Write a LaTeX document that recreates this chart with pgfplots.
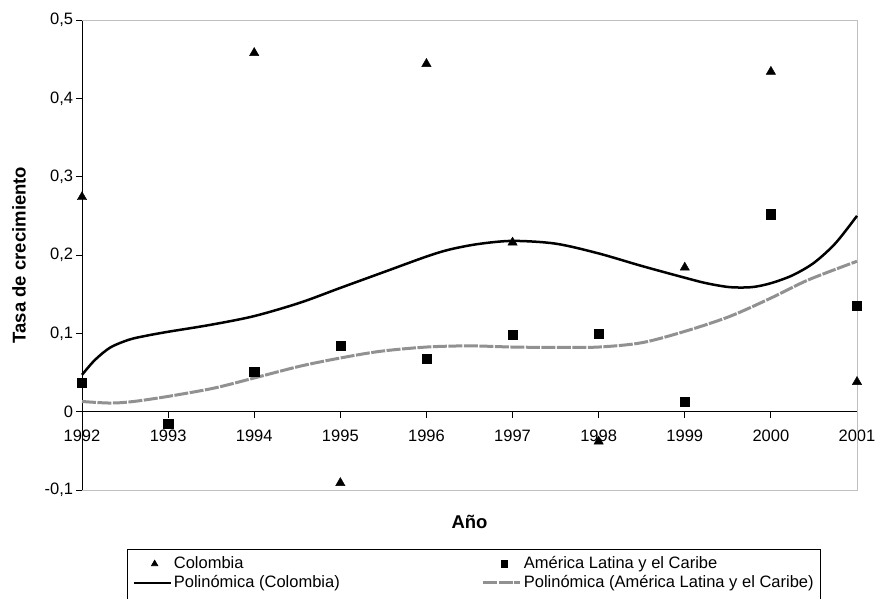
\documentclass[border=0pt]{standalone}
\usepackage{pgfplots}
\pgfplotsset{compat=1.18}
\usepackage{fontspec}
\setmainfont{Liberation Sans}
\definecolor{trendgray}{RGB}{145,145,145}
\definecolor{framegray}{RGB}{192,192,192}
\pgfplotsset{
  trilegend/.style={legend image code/.code={\path[draw=none] (0bp,0bp) -- (37bp,0bp); \path[##1, /tikz/only marks, draw=black, mark size=3.6bp] plot coordinates {(21bp,0bp)};}},
  sqlegend/.style={legend image code/.code={\path[draw=none] (0bp,0bp) -- (37bp,0bp); \path[##1, /tikz/only marks, draw=black, mark size=3.2bp] plot coordinates {(21bp,0bp)};}},
  linelegend/.style={legend image code/.code={\draw[##1] (0bp,0bp) -- (37bp,0bp);}},
}
\begin{document}
\begin{tikzpicture}
\begin{axis}[
  at={(0,0)}, anchor=south west,
  scale only axis, width=775bp, height=470bp,
  xmin=1992, xmax=2001, ymin=-0.1, ymax=0.5,
  axis y line=left, axis x line=middle,
  axis line style={-, black, line width=0.8bp},
  hide obscured x ticks=false, hide obscured y ticks=false,
  xtick={1992,1993,1994,1995,1996,1997,1998,1999,2000,2001},
  xticklabels={1992,1993,1994,1995,1996,1997,1998,1999,2000,2001},
  ytick={-0.1,0,0.1,0.2,0.3,0.4,0.5},
  yticklabels={{-0,1},{0},{0,1},{0,2},{0,3},{0,4},{0,5}},
  tick align=outside, major tick length=6bp,
  tick style={black, line width=0.8bp},
  minor tick num=0,
  ticklabel style={font=\fontsize{16.5bp}{19bp}\selectfont},
  xticklabel style={yshift=-9bp},
  yticklabel style={xshift=0.5bp},
  xlabel={Año}, ylabel={Tasa de crecimiento},
  label style={font=\bfseries\fontsize{18.5bp}{21bp}\selectfont},
  xlabel style={at={([yshift=-32bp]axis description cs:0.5,0)}, anchor=center},
  ylabel style={at={([xshift=-63bp]axis description cs:0,0.5)}, anchor=center},
  clip=false,
  legend columns=2,
  legend cell align=left,
  legend style={at={(axis description cs:0.05806,-0.12553)}, anchor=north west,
    draw=black, line width=0.8bp, inner xsep=5bp, inner ysep=5bp,
    column sep=0pt, font=\fontsize{16.5bp}{19bp}\selectfont,
    nodes={text height=13bp, text depth=4.5bp, inner ysep=0.75bp, inner xsep=2bp},
    /tikz/every even column/.append style={column sep=140bp}},
]
\draw[framegray, line width=0.8bp] (rel axis cs:0,0) -- (rel axis cs:1,0) -- (rel axis cs:1,1) -- (rel axis cs:0,1);

\addplot[only marks, mark=triangle*, mark size=5.4bp, black, trilegend]
coordinates {(1992,0.274) (1994,0.458) (1995,-0.091) (1996,0.444) (1997,0.216) (1998,-0.038) (1999,0.184) (2000,0.434) (2001,0.038)};
\addlegendentry{Colombia}

\addplot[only marks, mark=square*, mark size=4.6bp, black, sqlegend]
coordinates {(1992,0.037) (1993,-0.015) (1994,0.051) (1995,0.084) (1996,0.068) (1997,0.098) (1998,0.100) (1999,0.013) (2000,0.252) (2001,0.135)};
\addlegendentry{América Latina y el Caribe}

\addplot[black, line width=2.5bp, smooth, tension=0.5, no marks, linelegend]
coordinates {(1992.00,0.047) (1992.15,0.066) (1992.33,0.082) (1992.55,0.092) (1992.75,0.097) (1993.00,0.102) (1993.50,0.111) (1994.00,0.122) (1994.53,0.139) (1995.00,0.158) (1995.50,0.178) (1996.00,0.198) (1996.27,0.207) (1996.60,0.214) (1997.00,0.218) (1997.50,0.2145) (1998.00,0.202) (1998.50,0.186) (1999.00,0.171) (1999.25,0.164) (1999.52,0.159) (1999.78,0.159) (2000.00,0.164) (2000.25,0.174) (2000.50,0.190) (2000.75,0.215) (2001.00,0.250)};
\addlegendentry{Polinómica (Colombia)}

\addplot[trendgray, line width=3bp, smooth, tension=0.5, no marks, dash pattern=on 14bp off 1.5bp, linelegend]
coordinates {(1992.00,0.013) (1992.33,0.011) (1992.60,0.013) (1993.00,0.0195) (1993.53,0.030) (1994.00,0.043) (1994.53,0.058) (1995.00,0.0685) (1995.46,0.077) (1996.00,0.0825) (1996.50,0.084) (1997.00,0.0825) (1997.50,0.082) (1998.00,0.0825) (1998.50,0.088) (1999.00,0.1025) (1999.52,0.1215) (2000.00,0.145) (2000.43,0.168) (2001.00,0.192)};
\addlegendentry{Polinómica (América Latina y el Caribe)}
\addlegendimage{empty legend}\addlegendentry{}
\addlegendimage{empty legend}\addlegendentry{}
\end{axis}
\pgfresetboundingbox
\useasboundingbox (-82bp,-109bp) rectangle (793bp,490bp);
\end{tikzpicture}
\end{document}
